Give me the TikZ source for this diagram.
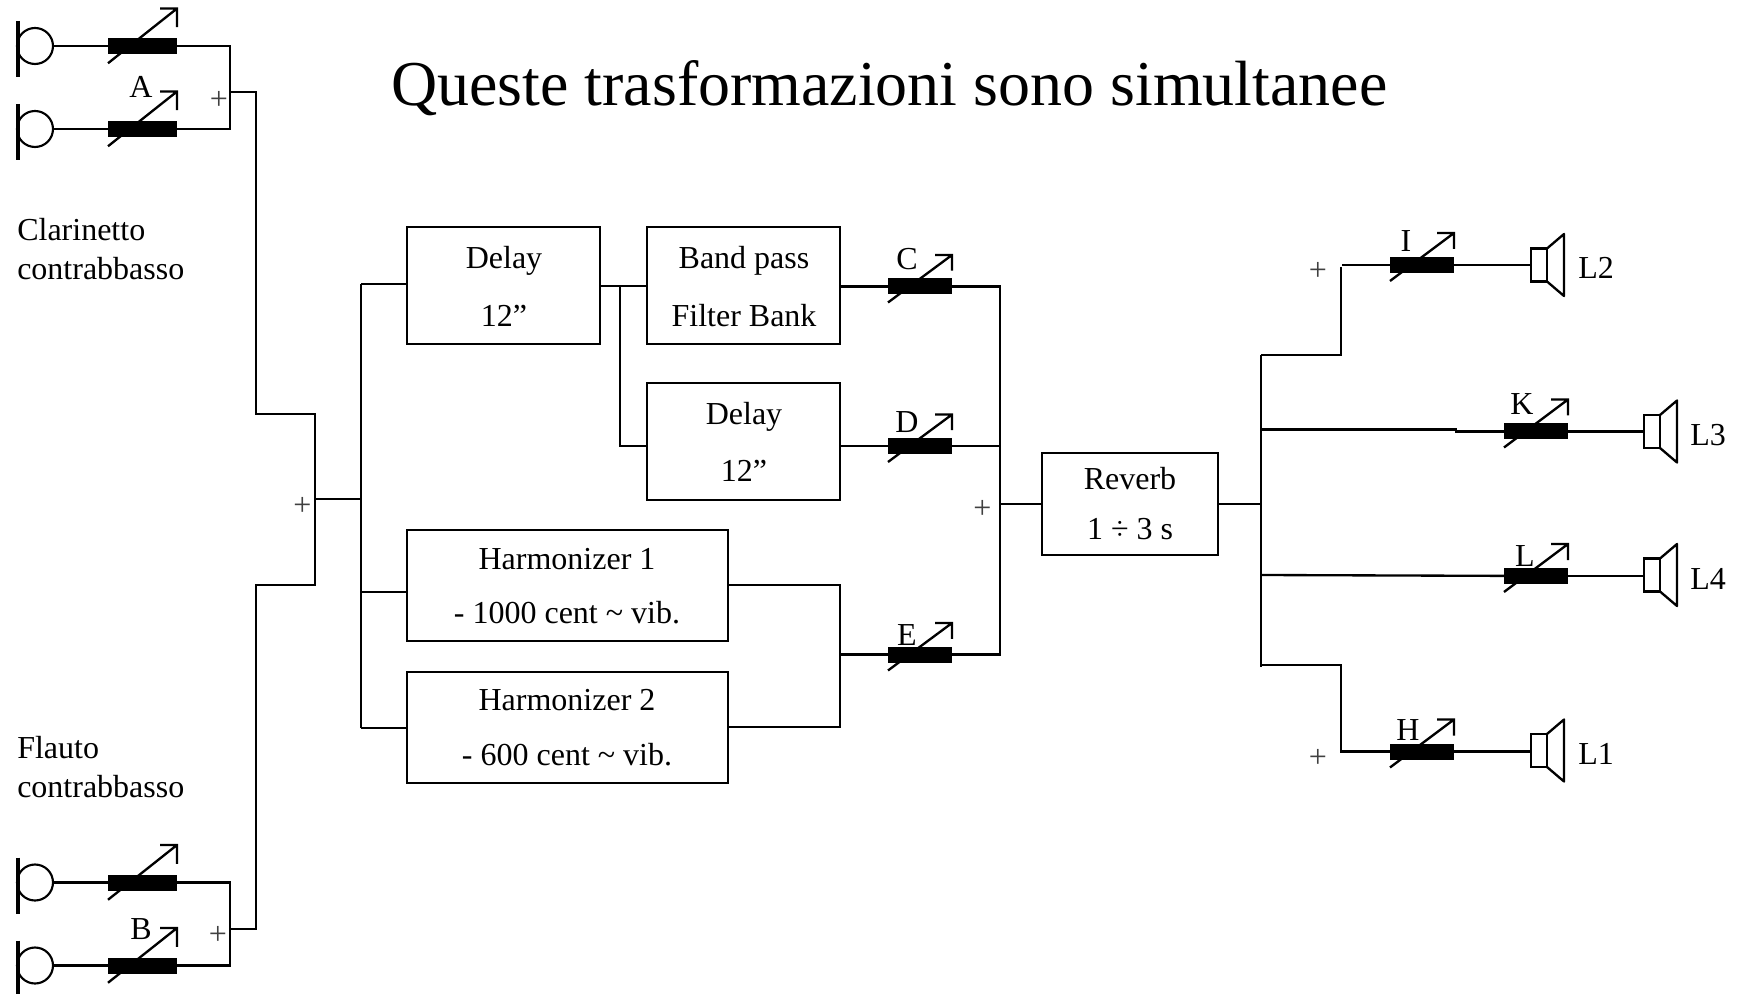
\documentclass[tikz,border=0pt]{standalone}
\usepackage{fontspec}
\setmainfont{Liberation Serif}
\tikzset{
  wire/.style={line width=1.75pt,line join=miter},
  blockbox/.style={draw,line width=1.6pt,inner sep=0,outer sep=0},
  micdisc/.style={draw,circle,line width=1.6pt,minimum size=27pt,inner sep=0,outer sep=0},
  gainbar/.style={fill=black,inner sep=0,outer sep=0,minimum height=12pt},
  conebox/.style={draw,line width=1.6pt,inner sep=0,outer sep=0,minimum width=12pt,minimum height=24.75pt},
  lab/.style={font=\fontsize{24}{24}\selectfont,anchor=base,inner sep=0,xshift=0.75pt,yshift=-0.75pt},
  labl/.style={font=\fontsize{24}{24}\selectfont,anchor=base west,inner sep=0,yshift=-0.75pt},
  plussign/.style={font=\fontsize{24}{24}\selectfont,anchor=base,inner sep=0,xshift=0.75pt,yshift=-2.25pt,text=black!75},
}
% microphone: name, x, y
\newcommand{\micsym}[3]{%
  \node[micdisc] (#1) at (#2+17,#3) {};
  \draw[line width=3.6pt] (#2,#3-25) -- (#2,#3+31);
}
% variable gain: name, x, y, half width, rise
\newcommand{\gainsym}[5]{%
  \node[gainbar,minimum width=#4*1.5pt] (#1) at (#2,#3) {};
  \draw[wire] (#2-#4,#3+#4/2) -- (#2+#4,#3-#5) (#2+#4-17,#3-#5) -- (#2+#4,#3-#5) -- (#2+#4,#3-#5+#5/2);
}
% loudspeaker: name, x, y
\newcommand{\spksym}[3]{%
  \node[conebox] (#1) at (#2,#3) {};
  \draw[wire,line join=round] (#1.north east) -- (#2+25,#3-31) -- (#2+25,#3+31) -- (#1.south east);
}
\begin{document}
\begin{tikzpicture}[x=0.75pt,y=-0.75pt]
\useasboundingbox (0,0) rectangle (1738,994);
\node[anchor=base west,inner sep=0,font=\fontsize{47.95}{48}\selectfont] (title) at (391,106) {Queste trasformazioni sono simultanee};

% input groups
\micsym{m1}{18}{46}  \gainsym{g1}{142.5}{46}{34.5}{37.5}
\micsym{m2}{18}{129} \gainsym{g2}{142.5}{129}{34.5}{37.5}
\micsym{m3}{18}{882.5}   \gainsym{g3}{142.5}{882.5}{34.5}{37.5}
\micsym{m4}{18}{965.5}   \gainsym{g4}{142.5}{965.5}{34.5}{37.5}
\draw[wire] (m1) -- (g1); \draw[wire] (m2) -- (g2);
\draw[wire] (m3) -- (g3); \draw[wire] (m4) -- (g4);
\coordinate (ja) at (230,92);
\coordinate (jb) at (230,929);
\coordinate (top1) at (256,414);
\coordinate (bot1) at (256,585);
\coordinate (sum) at (315,499);
\coordinate (bus) at (361,499);
\draw[wire] (g1) -| (ja) |- (g2);
\draw[wire] (g3) -| (jb) |- (g4);
\draw[wire] (ja) -- (256,92) -- (top1) -- (315,414) -- (315,585) -- (bot1) -- (256,929) -- (jb);
\draw[wire] (sum) -- (bus);
\node[lab] (la) at (140,97) {A};
\node[lab] (lb) at (140,938) {B};
\node[plussign] (pa) at (218,107) {+};
\node[plussign] (pb) at (217,941) {+};
\node[plussign] (pc) at (301.5,513) {+};
\node[labl] (t1) at (17,240) {Clarinetto};
\node[labl] (t2) at (17,279) {contrabbasso};
\node[labl] (t3) at (17,757) {Flauto};
\node[labl] (t4) at (17,796) {contrabbasso};

% blocks
\node[blockbox,minimum width=144.75pt,minimum height=87.75pt] (d1) at (503.5,285.5) {};
\node[blockbox,minimum width=144.75pt,minimum height=87.75pt] (bp) at (743.5,285.5) {};
\node[blockbox,minimum width=144.75pt,minimum height=87.75pt] (d2) at (743.5,441.5) {};
\node[blockbox,minimum width=240.75pt,minimum height=83.25pt] (h1) at (567.5,585.5) {};
\node[blockbox,minimum width=240.75pt,minimum height=83.25pt] (h2) at (567.5,727.5) {};
\node[blockbox,minimum width=132pt,minimum height=76.5pt] (rv) at (1130,504) {};
\node[lab] at (503,268) {Delay};
\node[lab] at (503,326) {12”};
\node[lab] at (743,268) {Band pass};
\node[lab] at (743,326) {Filter Bank};
\node[lab] at (743,424) {Delay};
\node[lab] at (743,481) {12”};
\node[lab] at (566,568) {Harmonizer 1};
\node[lab] at (566,622) {- 1000 cent \textasciitilde{} vib.};
\node[lab] at (566,709) {Harmonizer 2};
\node[lab] at (566,764) {- 600 cent \textasciitilde{} vib.};
\node[lab] at (1129,488) {Reverb};
\node[lab] at (1129,538) {1 ÷ 3 s};

\draw[wire] (361,284) -- (d1.west |- 361,284);
\draw[wire] (361,284) -- (361,728);
\draw[wire] (361,592) -- (h1.west |- 361,592);
\draw[wire] (361,728) -- (h2.west |- 361,728);

\coordinate (split) at (620,286);
\draw[wire] (d1.east |- split) -- (bp.west |- split);
\draw[wire] (split) -- (620,446) -- (d2.west |- 620,446);

\gainsym{gc}{920}{286.5}{32}{31.5}
\gainsym{gd}{920}{446}{32}{31.5}
\gainsym{ge}{920}{654.5}{32}{31.5}
\node[lab] (lc) at (906,269) {C};
\node[lab] (ld) at (906,432) {D};
\node[lab] (le) at (906,644) {E};
\draw[wire] (bp.east |- gc) -- (gc);
\draw[wire] (d2.east |- gd) -- (gd);
\coordinate (hj) at (840,654.5);
\draw[wire] (h1.east |- 840,585) -- (840,585) -- (840,727) -- (h2.east |- 840,727);
\draw[wire] (hj) -- (ge);
\coordinate (sum2) at (1000,504);
\draw[wire] (gc) -| (sum2);
\draw[wire] (gd) -- (1000,446);
\draw[wire] (ge) -| (sum2);
\draw[wire] (sum2) -- (rv.west |- sum2);
\node[plussign] (pd) at (981.5,515) {+};

% outputs
\coordinate (obus) at (1261,504);
\draw[wire] (rv.east |- obus) -- (obus);
\draw[wire] (1261,355) -- (1261,667);
\gainsym{gi}{1422}{265}{32}{32}
\gainsym{gk}{1536}{431.5}{32}{32}
\gainsym{gl}{1536}{576}{32}{32}
\gainsym{gh}{1422}{751.5}{32}{32}
\spksym{si}{1539}{265}
\spksym{sk}{1652}{431.5}
\spksym{sl}{1652}{575}
\spksym{sh}{1539}{750.5}
\draw[wire] (gi) -- (si);
\draw[wire] (gk) -- (sk);
\draw[wire] (gl) -- (gl -| sl.west);
\draw[wire] (gh) -- (gh -| sh.west);
\draw[wire] (1261,355) -- (1341,355) -- (1341,267);
\draw[wire] (1342,265) -- (gi);
\draw[wire] (1261,429.5) -- (1456,429.5) -- (1456,431.5) -- (gk);
\draw[wire] (1261,575) -- (gl);
\draw[wire] (1261,665) -- (1341,665) -- (1341,751.5) -- (gh);
\node[plussign] (pi) at (1317,278) {+};
\node[plussign] (ph) at (1317,764) {+};
\node[lab] (li) at (1405,251) {I};
\node[lab] (lk) at (1521,414) {K};
\node[lab] (ll) at (1524,565) {L};
\node[lab] (lh) at (1407,739) {H};
\node[labl] (l2) at (1578,278) {L2};
\node[labl] (l3) at (1690,445) {L3};
\node[labl] (l4) at (1690,588) {L4};
\node[labl] (l1) at (1578,763) {L1};
\end{tikzpicture}
\end{document}
